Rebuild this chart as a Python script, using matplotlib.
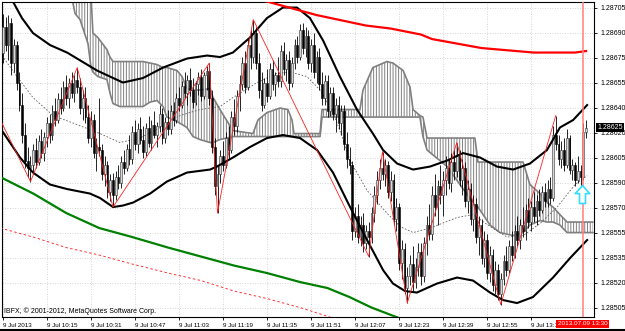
import numpy as np
import matplotlib
matplotlib.use('Agg')
import matplotlib.pyplot as plt
from matplotlib.path import Path
from matplotlib.lines import Line2D
from matplotlib.transforms import blended_transform_factory

# prices are stored in points (0.00001) above 1.28000
BASE = 1.28
POINT = 0.00001

open_pts = [675, 692, 680, 695, 668, 680, 655, 640, 620, 603, 598, 600, 610, 602, 616, 608, 619, 628, 620, 636,
            630, 644, 638, 652, 645, 655, 648, 657, 652, 638, 645, 632, 618, 630, 608, 612, 610, 594, 600, 582,
            590, 580, 592, 588, 602, 598, 611, 604, 622, 614, 624, 617, 609, 625, 615, 627, 620, 626, 634, 618,
            629, 624, 636, 630, 645, 640, 653, 648, 657, 650, 642, 654, 659, 646, 660, 663, 645, 612, 586, 594,
            606, 600, 618, 610, 632, 626, 646, 654, 668, 652, 680, 672, 688, 668, 650, 640, 655, 646, 664, 654,
            660, 656, 676, 664, 670, 655, 668, 680, 672, 690, 678, 686, 668, 680, 662, 672, 654, 645, 656, 636,
            648, 634, 640, 628, 636, 614, 604, 600, 556, 566, 552, 560, 548, 556, 552, 568, 580, 590, 598, 594,
            600, 582, 590, 564, 572, 535, 544, 518, 526, 534, 522, 532, 542, 526, 548, 560, 554, 580, 572, 586,
            580, 590, 598, 588, 602, 596, 606, 590, 598, 576, 584, 564, 574, 552, 560, 538, 550, 528, 540, 520,
            530, 514, 524, 536, 530, 546, 540, 556, 550, 560, 556, 570, 562, 572, 566, 576, 570, 582, 576, 584,
            578, 620, 614, 604, 610, 600, 618, 597, 600, 590, 596, 592, 622]
high_pts = [701, 699, 700, 698, 684, 683, 662, 648, 628, 612, 606, 614, 618, 620, 624, 622, 632, 634, 640, 645,
            648, 652, 656, 660, 658, 662, 660, 665, 658, 650, 652, 640, 636, 634, 618, 645, 614, 606, 603, 594,
            595, 596, 600, 606, 610, 614, 620, 626, 630, 628, 632, 626, 628, 633, 630, 636, 629, 640, 638, 632,
            637, 640, 642, 648, 652, 656, 662, 660, 665, 658, 656, 662, 664, 662, 666, 668, 650, 618, 600, 610,
            616, 622, 626, 636, 644, 650, 660, 672, 676, 684, 690, 697, 692, 675, 662, 658, 664, 668, 670, 662,
            672, 680, 682, 674, 676, 672, 684, 686, 694, 695, 692, 690, 684, 688, 676, 678, 662, 660, 660, 652,
            652, 645, 646, 640, 640, 622, 612, 603, 572, 574, 566, 568, 560, 562, 572, 586, 596, 604, 609, 604,
            603, 596, 594, 578, 575, 550, 548, 532, 540, 546, 538, 548, 548, 552, 566, 574, 586, 594, 590, 600,
            596, 606, 604, 608, 610, 615, 610, 604, 602, 590, 588, 580, 578, 566, 564, 556, 554, 546, 544, 536,
            534, 528, 540, 546, 550, 556, 560, 566, 564, 572, 574, 578, 576, 582, 580, 584, 586, 588, 590, 592,
            626, 633, 620, 616, 618, 624, 620, 604, 602, 606, 600, 628, 630]
low_pts = [668, 676, 670, 660, 662, 650, 636, 615, 598, 592, 589, 594, 598, 600, 605, 603, 612, 615, 617, 626,
           628, 634, 636, 640, 638, 645, 642, 648, 634, 630, 628, 615, 612, 605, 596, 606, 590, 586, 578, 576,
           572, 577, 584, 585, 594, 596, 600, 601, 610, 608, 614, 605, 606, 612, 610, 618, 612, 622, 614, 615,
           620, 621, 626, 628, 636, 638, 645, 640, 646, 638, 640, 647, 643, 644, 650, 640, 608, 580, 568, 588,
           596, 598, 604, 608, 620, 622, 636, 650, 648, 650, 664, 668, 664, 645, 636, 638, 642, 644, 650, 646,
           652, 652, 660, 656, 650, 652, 664, 668, 670, 674, 672, 664, 662, 658, 655, 650, 640, 640, 632, 633,
           630, 622, 624, 620, 610, 598, 594, 550, 552, 548, 546, 542, 544, 539, 548, 562, 574, 584, 590, 586,
           578, 576, 560, 556, 530, 524, 514, 508, 520, 516, 518, 526, 520, 522, 540, 550, 550, 566, 560, 574,
           566, 580, 584, 582, 590, 592, 586, 580, 572, 568, 560, 556, 548, 540, 534, 532, 524, 522, 516, 514,
           510, 507, 520, 526, 528, 536, 538, 546, 544, 552, 550, 558, 556, 562, 560, 566, 568, 572, 572, 574,
           576, 610, 600, 598, 596, 598, 594, 590, 586, 588, 586, 590, 618]
close_pts = [692, 680, 695, 668, 680, 655, 640, 620, 603, 598, 600, 610, 602, 616, 608, 619, 628, 620, 636, 630,
             644, 638, 652, 645, 655, 648, 657, 652, 638, 645, 632, 618, 630, 608, 612, 610, 594, 600, 582, 590,
             580, 592, 588, 602, 598, 611, 604, 622, 614, 624, 617, 609, 625, 615, 627, 620, 626, 634, 618, 629,
             624, 636, 630, 645, 640, 653, 648, 657, 650, 642, 654, 659, 646, 660, 663, 645, 612, 586, 594, 606,
             600, 618, 610, 632, 626, 646, 654, 668, 652, 680, 672, 688, 668, 650, 640, 655, 646, 664, 654, 660,
             656, 676, 664, 670, 655, 668, 680, 672, 690, 678, 686, 668, 680, 662, 672, 654, 645, 656, 636, 648,
             634, 640, 628, 636, 614, 604, 600, 556, 566, 552, 560, 548, 556, 552, 568, 580, 590, 598, 594, 600,
             582, 590, 564, 572, 535, 544, 518, 526, 534, 522, 532, 542, 526, 548, 560, 554, 580, 572, 586, 580,
             590, 598, 588, 602, 596, 606, 590, 598, 576, 584, 564, 574, 552, 560, 538, 550, 528, 540, 520, 530,
             514, 524, 536, 530, 546, 540, 556, 550, 560, 556, 570, 562, 572, 566, 576, 570, 582, 576, 584, 578,
             620, 614, 604, 610, 600, 618, 597, 600, 590, 596, 592, 622, 625]

# Bollinger bands (bar index, points)
bb_up_bar = [0, 3.6, 6.9, 10.9, 17.1, 23.3, 34.2, 43.6, 50.9, 58.2, 66.9, 74.2, 78.9, 83.6, 89.8, 96, 101.8,
             106.9, 111.6, 116.4, 122.5, 128.7, 134.5, 138.2, 143.3, 149.1, 155.3, 161.5, 167.3, 173.5, 179.6,
             185.5, 191.6, 197.8, 202.5, 207.3, 212.4]
bb_up_pts = [717, 709, 698, 688, 680, 675, 663, 655, 658, 665, 671, 673, 672, 675, 685, 698, 705, 705, 698,
             683, 659, 637, 621, 610, 601, 597, 599, 603, 608, 605, 599, 597, 601, 610, 625, 630, 640]
bb_mid_bar = [-0.4, 5.1, 10.9, 18.2, 25.5, 35.3, 42.5, 49.8, 57.1, 64.4, 71.6, 78.9, 83.6, 92.4, 99.6, 104.4,
              110.5, 115.3, 120, 122.5, 126.2, 132.4, 139.6, 144.4, 149.1, 155.3, 165.1, 170.9, 177.1, 183.3,
              189.1, 195.3, 201.5, 208, 212.4]
bb_mid_pts = [673, 659, 645, 633, 628, 621, 615, 618, 625, 633, 637, 639, 645, 655, 661, 662, 659, 650, 635,
              623, 603, 583, 568, 559, 555, 558, 565, 567, 559, 552, 553, 561, 572, 587, 593]
bb_low_bar = [-0.4, 6.2, 10.9, 17.1, 23.3, 31.6, 35.3, 40, 43.6, 47.3, 53.5, 59.6, 66.9, 75.3, 77.8, 83.6,
              89.8, 96, 101.8, 108, 114.2, 120, 126.2, 132.4, 138.2, 141.8, 146.2, 150.5, 157.8, 165.1, 170.9,
              177.1, 181.8, 186.9, 192.7, 200, 206.2, 212.4]
bb_low_pts = [623, 605, 595, 587, 584, 581, 578, 572, 573, 575, 581, 589, 595, 597, 599, 605, 612, 618, 620,
              618, 610, 595, 572, 550, 530, 521, 516, 515, 521, 525, 523, 515, 510, 508, 512, 525, 538, 550]

# moving averages
ma_red_bar = [85, 96, 114, 132, 141, 152, 156, 174, 193, 202, 208, 212]
ma_red_pts = [714, 709, 700, 693, 691, 687, 684, 678, 675, 675, 675, 676]
ma_green_bar = [-1, 11, 23, 35, 47, 60, 72, 84, 96, 108, 118, 126, 134, 144, 155]
ma_green_pts = [592, 581, 568, 558, 552, 545, 539, 533, 528, 522, 518, 512, 505, 498, 490]
ma_dot_bar = [-1, 11, 23, 35, 47, 60, 72, 84, 96, 108, 120, 130]
ma_dot_pts = [558, 552, 545, 540, 534, 528, 523, 516, 511, 505, 498, 493]

# zigzag
zz_bar = [-22, 10, 27, 40, 75, 78, 91, 133, 138, 147, 165, 181, 201]
zz_pts = [709, 589, 665, 572, 668, 568, 697, 539, 609, 508, 615, 507, 633]

# ichimoku cloud (span a / span b)
cloud_bar = [25.1, 26.2, 28, 30.9, 32, 32.7, 34.5, 37.8, 38.9, 40, 42.5, 50.9, 53.5, 56, 58.2, 59.6, 63.3,
             65.1, 66.9, 69.1, 71.6, 75.3, 76.4, 78.9, 83.6, 90.9, 92.7, 96, 100.7, 103.6, 105.1, 105.8, 115.3,
             116, 129.8, 130.9, 134.5, 139.6, 141.8, 145.5, 148, 149.1, 151.6, 152.7, 154.2, 161.5, 171.6,
             172.7, 177.1, 180.7, 185.5, 189.1, 191.6, 195.3, 197.8, 200, 202.5, 205.1, 214.5]
span_a_pts = [720, 720, 720, 720, 713, 688, 685, 677, 672, 669, 669, 669, 668, 667, 665, 665, 663, 659, 651,
              650, 650, 651, 645, 637, 623, 621, 630, 635, 638, 637, 630, 621, 621, 637, 637, 650, 665, 669,
              668, 663, 652, 637, 633, 632, 618, 618, 618, 602, 602, 602, 602, 602, 587, 581, 575, 572, 567,
              562, 562]
span_b_pts = [711, 701, 697, 681, 665, 662, 659, 657, 648, 641, 639, 639, 642, 643, 639, 632, 629, 627, 625,
              619, 617, 615, 615, 617, 619, 619, 619, 619, 619, 619, 619, 619, 619, 632, 632, 632, 632, 632,
              632, 632, 632, 632, 632, 619, 610, 599, 573, 572, 560, 555, 553, 555, 560, 563, 562, 562, 560,
              555, 555]

x_tick_bar = [0, 16, 32, 48, 64, 80, 96, 112, 128, 144, 160, 176, 192]
x_labels = ['9 Jul 2013', '9 Jul 10:15', '9 Jul 10:31', '9 Jul 10:47', '9 Jul 11:03', '9 Jul 11:19',
            '9 Jul 11:35', '9 Jul 11:51', '9 Jul 12:07', '9 Jul 12:23', '9 Jul 12:39', '9 Jul 12:55',
            '9 Jul 13:11']
y_labels = ['1.28505', '1.28520', '1.28535', '1.28555', '1.28570', '1.28590', '1.28605',
            '1.28620', '1.28640', '1.28655', '1.28675', '1.28690', '1.28705']

vline_bar = 211
vline_label = '2013.07.09 13:30'
last_price = 1.28625
arrow_bar = 210.5
arrow_price = 1.28581


def to_price(a):
    return BASE + np.array(a, dtype=float) * POINT


plt.rcParams['hatch.color'] = '#808080'
plt.rcParams['hatch.linewidth'] = 0.7
plt.rcParams['font.family'] = ['Liberation Sans', 'DejaVu Sans']

fig = plt.figure(figsize=(6.25, 3.31), dpi=100)
ax = fig.add_axes([2 / 625, 14 / 331, 592 / 625, 315 / 331])

o = to_price(open_pts)
h = to_price(high_pts)
l = to_price(low_pts)
c = to_price(close_pts)
bars = np.arange(len(c))

# cloud
ax.fill_between(cloud_bar, to_price(span_a_pts), to_price(span_b_pts), facecolor='white',
                edgecolor='#808080', hatch='||||||', linewidth=0, zorder=1)
ax.plot(cloud_bar, to_price(span_a_pts), color='#808080', lw=1.2, zorder=1.5)
ax.plot(cloud_bar, to_price(span_b_pts), color='#808080', lw=1.2, zorder=1.5)

# bollinger middle
ax.plot(bb_mid_bar, to_price(bb_mid_pts), color='#606060', lw=0.6, ls=(0, (2, 2)), zorder=2)

# candles
ax.vlines(bars, l, h, color='black', lw=0.6, zorder=3)
up = c >= o
body_w = 0.7
ax.bar(bars[up], (c - o)[up], bottom=o[up], width=body_w, color='#d8d8d8', edgecolor='#303030',
       linewidth=0.4, zorder=3.5)
ax.bar(bars[~up], (o - c)[~up], bottom=c[~up], width=body_w, color='black', edgecolor='black',
       linewidth=0.4, zorder=3.5)

# bands and averages
ax.plot(bb_up_bar, to_price(bb_up_pts), color='black', lw=1.5, zorder=4)
ax.plot(bb_low_bar, to_price(bb_low_pts), color='black', lw=1.5, zorder=4)
ax.plot(ma_red_bar, to_price(ma_red_pts), color='#ff0000', lw=1.6, zorder=4)
ax.plot(ma_green_bar, to_price(ma_green_pts), color='#008000', lw=1.6, zorder=4)
ax.plot(ma_dot_bar, to_price(ma_dot_pts), color='#ff3030', lw=0.7, ls=(0, (2.5, 2.5)), zorder=4)
ax.plot(zz_bar, to_price(zz_pts), color='#ff2020', lw=0.6, zorder=5)

# vertical line and arrow
ax.axvline(vline_bar, color='#ff8080', lw=1.1, zorder=5)
arrow = Path([(0, 1), (0.8, 0.1), (0.33, 0.1), (0.33, -1), (-0.33, -1), (-0.33, 0.1), (-0.8, 0.1), (0, 1)],
             [Path.MOVETO] + [Path.LINETO] * 6 + [Path.CLOSEPOLY])
ax.plot([arrow_bar], [arrow_price], marker=arrow, markersize=13, mfc='white', mec='#33ddff', mew=1.2,
        zorder=6, ls='none')

ax.set_xlim(-0.36, 214.9)
ax.set_ylim(1.284987, 1.287087)

y_ticks = np.linspace(1.28505, 1.28705, 13)
ax.set_yticks(y_ticks)
ax.set_yticklabels(y_labels)
ax.yaxis.tick_right()
ax.set_xticks(x_tick_bar)
ax.set_xticklabels(x_labels)
for lab in ax.get_xticklabels():
    lab.set_horizontalalignment('left')
ax.tick_params(axis='y', labelsize=5, length=2.5, width=0.6, pad=2.5, direction='out')
ax.tick_params(axis='x', labelsize=4.5, length=2.5, width=0.6, pad=1.5, direction='out')
ax.grid(True, color='#c8c8c8', linestyle=(0, (1, 2)), linewidth=0.6, zorder=0)
ax.set_axisbelow(True)
for s in ax.spines.values():
    s.set_color('black')
    s.set_linewidth(0.8)

ax.text(0.004, 0.005, 'IBFX, \u00a9 2001-2012, MetaQuotes Software Corp.', transform=ax.transAxes,
        fontsize=5, ha='left', va='bottom', color='black', zorder=7)

tr_x = blended_transform_factory(ax.transData, ax.transAxes)
ax.text(vline_bar - 0.2, -0.021, vline_label, transform=tr_x, ha='center', va='center', fontsize=4.6,
        color='white', bbox=dict(facecolor='#ff0000', edgecolor='none', pad=1.0), zorder=8, clip_on=False)
tr_y = blended_transform_factory(ax.transAxes, ax.transData)
ax.text(1.006, last_price, '1.28625', transform=tr_y, ha='left', va='center', fontsize=5, color='white',
        bbox=dict(facecolor='black', edgecolor='none', pad=0.8), zorder=8, clip_on=False)

fig.add_artist(Line2D([0, 1], [0.004, 0.004], color='black', lw=1.5, transform=fig.transFigure))

fig.savefig('out.png', dpi=100, facecolor='white')
